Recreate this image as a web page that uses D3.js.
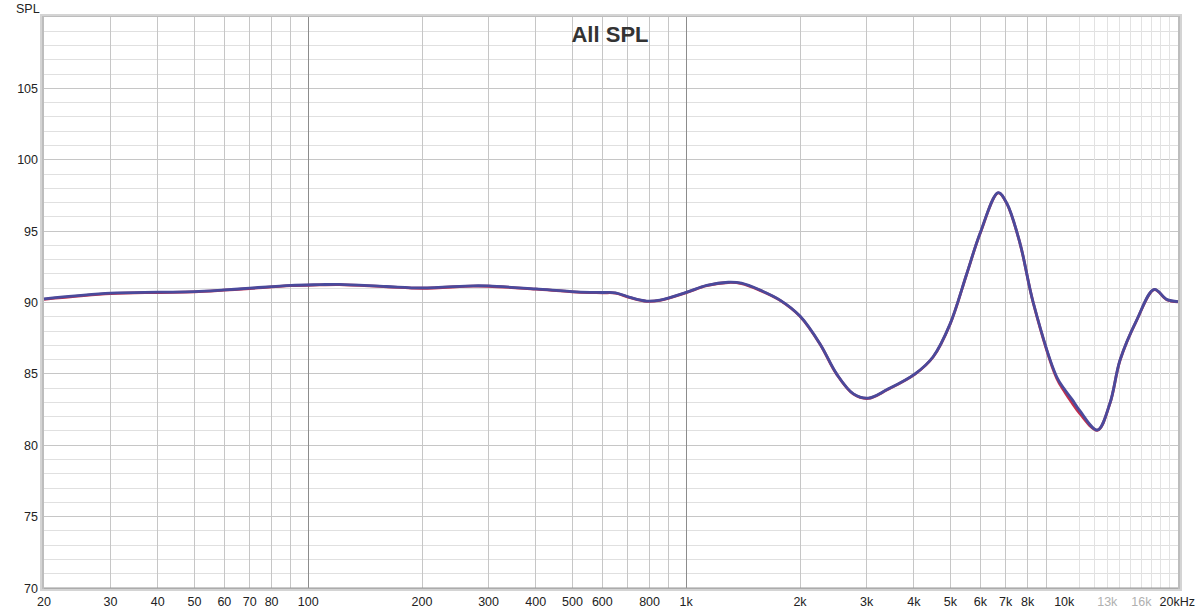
<!DOCTYPE html>
<html><head><meta charset="utf-8">
<script src="https://cdn.jsdelivr.net/npm/d3@7"></script>
<style>
html,body{margin:0;padding:0;background:#fff;}
svg{display:block;font-family:"Liberation Sans",Arial,sans-serif;}
</style></head>
<body>
<svg id="chart" width="1200" height="612"></svg>
<script>
// ---- data ----
const freqs = [20,30,40,50,60,70,90,107,121,161,200,273,300,400,513,600,650,710,786,852,1000,1133,1292,1400,1568,1771,2000,2260,2500,2770,3030,3400,4030,4500,4990,5520,5990,6690,7050,7640,8280,9550,10050,10500,11010,12240,13210,14050,15550,17310,18660,20000];
const splBlue = [90.25,90.65,90.72,90.76,90.88,91.0,91.2,91.25,91.27,91.12,91.02,91.17,91.16,90.95,90.75,90.7,90.68,90.36,90.1,90.17,90.71,91.2,91.42,91.35,90.87,90.17,89.05,87.1,85.0,83.6,83.3,83.9,85.0,86.2,88.5,92.0,94.85,97.7,96.95,94.15,90.0,84.8,83.87,83.2,82.4,81.07,82.94,85.97,88.77,90.92,90.22,90.06];
const splRed  = [90.22,90.62,90.7,90.74,90.86,90.98,91.18,91.23,91.25,91.1,91.0,91.15,91.14,90.93,90.73,90.68,90.66,90.34,90.08,90.15,90.69,91.18,91.4,91.33,90.85,90.15,89.03,87.08,84.98,83.58,83.28,83.88,84.98,86.18,88.48,91.98,94.83,97.68,96.93,94.13,89.98,84.7,83.7,82.95,82.2,81.05,82.92,85.95,88.75,90.9,90.2,90.04];
const yTicks = [70,75,80,85,90,95,100,105];
const xTickVals = [20,30,40,50,60,70,80,100,200,300,400,500,600,800,1000,2000,3000,4000,5000,6000,7000,8000,10000,13000,16000,20000];
const xTickText = ["20","30","40","50","60","70","80","100","200","300","400","500","600","800","1k","2k","3k","4k","5k","6k","7k","8k","10k","13k","16k","20kHz"];
const title = "All SPL";
const yTitle = "SPL";

// ---- layout ----
const L = 44, R = 1178, T = 17, B = 588;
const svg = d3.select("#chart");
const x = d3.scaleLog().domain([20, 20000]).range([L, R]);
const y = d3.scaleLinear().domain([70, 110]).range([B, T]);

// frame shadow
svg.append("rect").attr("x", L-4).attr("y", T-3).attr("width", R-L+8).attr("height", B-T+6)
  .attr("fill", "#d4d4d4");
svg.append("rect").attr("x", L-2).attr("y", T-1).attr("width", R-L+4).attr("height", B-T+2)
  .attr("fill", "#bdbdbd");
svg.append("rect").attr("x", L).attr("y", T).attr("width", R-L).attr("height", B-T).attr("fill", "#fff");

const g = svg.append("g");
// horizontal grid, every 1 dB
d3.range(71, 110).forEach(v => {
  g.append("line").attr("x1", L).attr("x2", R).attr("y1", y(v)).attr("y2", y(v))
    .attr("stroke", v % 5 === 0 ? "#c6c6c6" : "#e0e0e0").attr("stroke-width", 1)
    .attr("shape-rendering", "crispEdges");
});
// vertical grid
const vlines = [];
[10,100,1000].forEach(d => { for (let k = 1; k <= 9; k++) { const f = d*k; if (f > 20 && f < 20000) vlines.push(f); } });
for (let f = 11000; f < 20000; f += 1000) if (!vlines.includes(f)) vlines.push(f);
vlines.forEach(f => {
  let col = "#c6c6c6";
  if (f === 100 || f === 1000 || f === 10000) col = "#8c8c8c";
  else if (f > 10000) col = "#e2e2e2";
  g.append("line").attr("x1", x(f)).attr("x2", x(f)).attr("y1", T).attr("y2", B)
    .attr("stroke", col).attr("stroke-width", 1).attr("shape-rendering", "crispEdges");
});
// bottom axis line
g.append("line").attr("x1", L).attr("x2", R).attr("y1", B).attr("y2", B)
  .attr("stroke", "#9a9a9a").attr("stroke-width", 1.2);

// y labels
svg.selectAll(".yl").data(yTicks).enter().append("text")
  .attr("x", 38).attr("y", d => y(d) + 4.5).attr("text-anchor", "end")
  .attr("font-size", 12.5).attr("fill", "#222").text(d => d);
svg.append("text").attr("x", 16).attr("y", 13).attr("font-size", 12.5).attr("fill", "#222").text(yTitle);

// x labels
xTickVals.forEach((f, i) => {
  const t = xTickText[i];
  const grey = (t === "13k" || t === "16k");
  const el = svg.append("text").attr("y", 606).attr("font-size", 12.5)
    .attr("fill", grey ? "#b0b0b0" : "#222").text(t);
  if (t === "20kHz") el.attr("x", 1195).attr("text-anchor", "end");
  else el.attr("x", x(f)).attr("text-anchor", "middle");
});

// title
svg.append("text").attr("x", 610).attr("y", 42).attr("text-anchor", "middle")
  .attr("font-size", 22).attr("font-weight", "bold").attr("fill", "#333").text(title);

// curves
const line = d3.line().x(d => x(d[0])).y(d => y(d[1])).curve(d3.curveCatmullRom.alpha(0.5));
const redPts = freqs.map((f, i) => [f, splRed[i]]);
const bluePts = freqs.map((f, i) => [f, splBlue[i]]);
svg.append("path").datum(redPts).attr("d", line).attr("fill", "none")
  .attr("stroke", "#c0304e").attr("stroke-width", 2.8);
svg.append("path").datum(bluePts).attr("d", line).attr("fill", "none")
  .attr("stroke", "#4a4a9c").attr("stroke-width", 2.8);
</script>
</body></html>
